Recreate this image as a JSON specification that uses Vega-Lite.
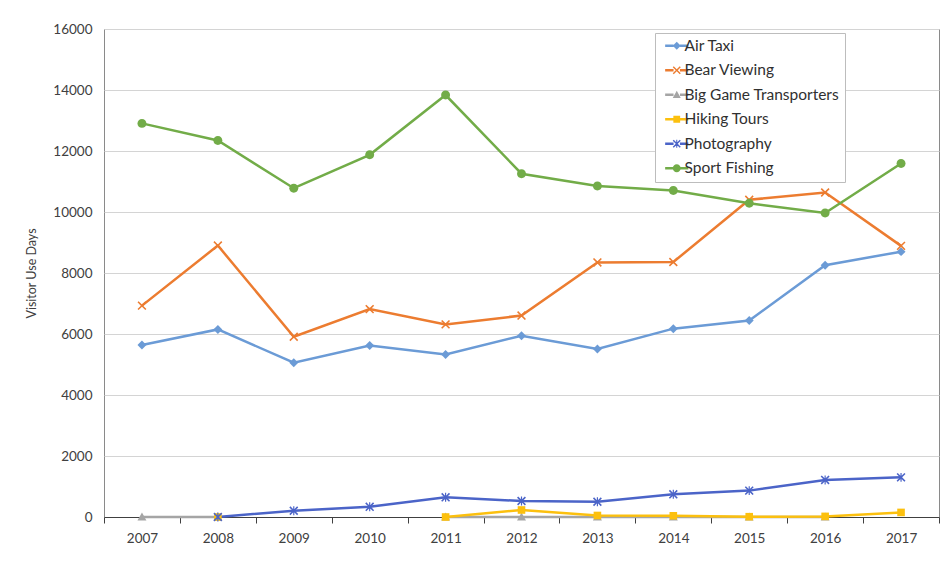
{
  "$schema": "https://vega.github.io/schema/vega-lite/v6.json",
  "width": 835,
  "height": 488,
  "autosize": "none",
  "padding": {"left": 104, "top": 29, "right": 13, "bottom": 49},
  "background": "white",
  "config": {
    "font": "Lato",
    "view": {"stroke": "#8a8a8a", "strokeWidth": 1},
    "axis": {"labelColor": "#404040", "titleColor": "#404040", "labelFont": "Lato", "titleFont": "Lato"},
    "legend": {"labelFont": "Lato"}
  },
  "data": {
    "values": [
      {"year": "2007", "series": "Air Taxi", "days": 5640},
      {"year": "2008", "series": "Air Taxi", "days": 6150},
      {"year": "2009", "series": "Air Taxi", "days": 5060},
      {"year": "2010", "series": "Air Taxi", "days": 5625},
      {"year": "2011", "series": "Air Taxi", "days": 5330},
      {"year": "2012", "series": "Air Taxi", "days": 5945},
      {"year": "2013", "series": "Air Taxi", "days": 5510},
      {"year": "2014", "series": "Air Taxi", "days": 6175},
      {"year": "2015", "series": "Air Taxi", "days": 6440},
      {"year": "2016", "series": "Air Taxi", "days": 8255},
      {"year": "2017", "series": "Air Taxi", "days": 8700},

      {"year": "2007", "series": "Bear Viewing", "days": 6930},
      {"year": "2008", "series": "Bear Viewing", "days": 8900},
      {"year": "2009", "series": "Bear Viewing", "days": 5910},
      {"year": "2010", "series": "Bear Viewing", "days": 6815},
      {"year": "2011", "series": "Bear Viewing", "days": 6315},
      {"year": "2012", "series": "Bear Viewing", "days": 6605},
      {"year": "2013", "series": "Bear Viewing", "days": 8345},
      {"year": "2014", "series": "Bear Viewing", "days": 8360},
      {"year": "2015", "series": "Bear Viewing", "days": 10400},
      {"year": "2016", "series": "Bear Viewing", "days": 10640},
      {"year": "2017", "series": "Bear Viewing", "days": 8890},

      {"year": "2007", "series": "Big Game Transporters", "days": 0},
      {"year": "2008", "series": "Big Game Transporters", "days": 0},
      {"year": "2009", "series": "Big Game Transporters", "days": null},
      {"year": "2010", "series": "Big Game Transporters", "days": null},
      {"year": "2011", "series": "Big Game Transporters", "days": 0},
      {"year": "2012", "series": "Big Game Transporters", "days": 0},
      {"year": "2013", "series": "Big Game Transporters", "days": 0},
      {"year": "2014", "series": "Big Game Transporters", "days": 0},
      {"year": "2015", "series": "Big Game Transporters", "days": 0},
      {"year": "2016", "series": "Big Game Transporters", "days": 0},
      {"year": "2017", "series": "Big Game Transporters", "days": null},

      {"year": "2007", "series": "Hiking Tours", "days": null},
      {"year": "2008", "series": "Hiking Tours", "days": 0},
      {"year": "2009", "series": "Hiking Tours", "days": null},
      {"year": "2010", "series": "Hiking Tours", "days": null},
      {"year": "2011", "series": "Hiking Tours", "days": 0},
      {"year": "2012", "series": "Hiking Tours", "days": 230},
      {"year": "2013", "series": "Hiking Tours", "days": 50},
      {"year": "2014", "series": "Hiking Tours", "days": 40},
      {"year": "2015", "series": "Hiking Tours", "days": 10},
      {"year": "2016", "series": "Hiking Tours", "days": 20},
      {"year": "2017", "series": "Hiking Tours", "days": 150},

      {"year": "2008", "series": "Photography", "days": 0},
      {"year": "2009", "series": "Photography", "days": 205},
      {"year": "2010", "series": "Photography", "days": 335},
      {"year": "2011", "series": "Photography", "days": 645},
      {"year": "2012", "series": "Photography", "days": 525},
      {"year": "2013", "series": "Photography", "days": 500},
      {"year": "2014", "series": "Photography", "days": 745},
      {"year": "2015", "series": "Photography", "days": 865},
      {"year": "2016", "series": "Photography", "days": 1215},
      {"year": "2017", "series": "Photography", "days": 1300},

      {"year": "2007", "series": "Sport Fishing", "days": 12905},
      {"year": "2008", "series": "Sport Fishing", "days": 12345},
      {"year": "2009", "series": "Sport Fishing", "days": 10780},
      {"year": "2010", "series": "Sport Fishing", "days": 11875},
      {"year": "2011", "series": "Sport Fishing", "days": 13835},
      {"year": "2012", "series": "Sport Fishing", "days": 11255},
      {"year": "2013", "series": "Sport Fishing", "days": 10855},
      {"year": "2014", "series": "Sport Fishing", "days": 10705},
      {"year": "2015", "series": "Sport Fishing", "days": 10285},
      {"year": "2016", "series": "Sport Fishing", "days": 9965},
      {"year": "2017", "series": "Sport Fishing", "days": 11590}
    ]
  },
  "encoding": {
    "x": {
      "field": "year",
      "type": "ordinal",
      "bandPosition": 0.5,
      "scale": {"type": "band", "paddingInner": 0, "paddingOuter": 0},
      "axis": {
        "title": null,
        "labelAngle": 0,
        "labelFontSize": 13.5,
        "labelPadding": 8,
        "tickBand": "extent",
        "tickSize": 6,
        "tickColor": "#404040",
        "domainColor": "#404040",
        "domainWidth": 1.2,
        "grid": false
      }
    },
    "y": {
      "field": "days",
      "type": "quantitative",
      "scale": {"domain": [0, 16000], "nice": false, "zero": true},
      "axis": {
        "title": "Visitor Use Days",
        "titleFontSize": 12.5,
        "titleFontWeight": "normal",
        "titlePadding": 14,
        "values": [0, 2000, 4000, 6000, 8000, 10000, 12000, 14000, 16000],
        "format": "d",
        "labelFontSize": 13.5,
        "labelPadding": 12,
        "ticks": false,
        "domain": false,
        "gridColor": "#d4d4d4",
        "gridWidth": 1
      }
    }
  },
  "layer": [
    {
      "transform": [{"filter": "false"}],
      "mark": {"type": "point", "filled": true, "opacity": 1},
      "encoding": {
        "fill": {
          "field": "series",
          "type": "nominal",
          "scale": {
            "domain": ["Air Taxi", "Bear Viewing", "Big Game Transporters", "Hiking Tours", "Photography", "Sport Fishing"],
            "range": ["#6b9bd6", "#ec7c30", "#a5a5a5", "#fcc00e", "#4b64c8", "#72ac48"]
          },
          "legend": {
            "title": null,
            "orient": "none",
            "legendX": 551,
            "legendY": 4,
            "labelFontSize": 15.5,
            "labelColor": "#303030",
            "labelOffset": 0,
            "symbolOffset": 9,
            "symbolSize": 64,
            "symbolOpacity": 1,
            "symbolStrokeWidth": 0,
            "rowPadding": 7.5,
            "padding": 5,
            "strokeColor": "#bdbdbd",
            "fillColor": "white"
          }
        },
        "shape": {
          "field": "series",
          "type": "nominal",
          "scale": {
            "domain": ["Air Taxi", "Bear Viewing", "Big Game Transporters", "Hiking Tours", "Photography", "Sport Fishing"],
            "range": [
              "M0,-1L1,0L0,1L-1,0Z M-2.9,-0.3H-0.8V0.3H-2.9Z M0.8,-0.3H2.9V0.3H0.8Z",
              "M-1,-0.75L-0.75,-1L0,-0.25L0.75,-1L1,-0.75L0.25,0L1,0.75L0.75,1L0,0.25L-0.75,1L-1,0.75L-0.25,0Z M-2.9,-0.3H-0.8V0.3H-2.9Z M0.8,-0.3H2.9V0.3H0.8Z",
              "M0,-1L1,0.8L-1,0.8Z M-2.9,-0.3H-0.8V0.3H-2.9Z M0.8,-0.3H2.9V0.3H0.8Z",
              "M-0.85,-0.85H0.85V0.85H-0.85Z M-2.9,-0.3H-0.85V0.3H-2.9Z M0.85,-0.3H2.9V0.3H0.85Z",
              "M-1,-0.75L-0.75,-1L0,-0.25L0.75,-1L1,-0.75L0.25,0L1,0.75L0.75,1L0,0.25L-0.75,1L-1,0.75L-0.25,0Z M-0.13,-1H0.13V1H-0.13Z M-2.9,-0.3H-0.8V0.3H-2.9Z M0.8,-0.3H2.9V0.3H0.8Z",
              "M1,0A1,1,0,1,1,-1,0A1,1,0,1,1,1,0Z M-2.9,-0.3H-0.9V0.3H-2.9Z M0.9,-0.3H2.9V0.3H0.9Z"
            ]
          },
          "legend": {
            "title": null,
            "orient": "none",
            "legendX": 551,
            "legendY": 4,
            "labelFontSize": 15.5,
            "labelColor": "#303030",
            "labelOffset": 0,
            "symbolOffset": 9,
            "symbolSize": 64,
            "symbolOpacity": 1,
            "symbolStrokeWidth": 0,
            "rowPadding": 7.5,
            "padding": 5,
            "strokeColor": "#bdbdbd",
            "fillColor": "white"
          }
        }
      }
    },
    {
      "mark": {"type": "line", "strokeWidth": 2.5, "invalid": "break-paths-show-domains"},
      "encoding": {
        "color": {
          "field": "series",
          "type": "nominal",
          "legend": null,
          "scale": {
            "domain": ["Air Taxi", "Bear Viewing", "Big Game Transporters", "Hiking Tours", "Photography", "Sport Fishing"],
            "range": ["#6b9bd6", "#ec7c30", "#a5a5a5", "#fcc00e", "#4b64c8", "#72ac48"]
          }
        }
      }
    },
    {
      "transform": [{"filter": "datum.days != null"}],
      "mark": {"type": "point", "filled": true, "opacity": 1, "size": 80, "strokeWidth": 0},
      "encoding": {
        "color": {
          "field": "series",
          "type": "nominal",
          "legend": null,
          "scale": {
            "domain": ["Air Taxi", "Bear Viewing", "Big Game Transporters", "Hiking Tours", "Photography", "Sport Fishing"],
            "range": ["#6b9bd6", "#ec7c30", "#a5a5a5", "#fcc00e", "#4b64c8", "#72ac48"]
          }
        },
        "shape": {
          "field": "series",
          "type": "nominal",
          "legend": null,
          "scale": {
            "domain": ["Air Taxi", "Bear Viewing", "Big Game Transporters", "Hiking Tours", "Photography", "Sport Fishing"],
            "range": [
              "M0,-1L1,0L0,1L-1,0Z",
              "M-1,-0.75L-0.75,-1L0,-0.25L0.75,-1L1,-0.75L0.25,0L1,0.75L0.75,1L0,0.25L-0.75,1L-1,0.75L-0.25,0Z",
              "M0,-1L1,0.8L-1,0.8Z",
              "M-0.85,-0.85H0.85V0.85H-0.85Z",
              "M-1,-0.75L-0.75,-1L0,-0.25L0.75,-1L1,-0.75L0.25,0L1,0.75L0.75,1L0,0.25L-0.75,1L-1,0.75L-0.25,0Z M-0.13,-1H0.13V1H-0.13Z",
              "M1,0A1,1,0,1,1,-1,0A1,1,0,1,1,1,0Z"
            ]
          }
        }
      }
    }
  ],
  "resolve": {"scale": {"shape": "independent", "fill": "independent"}}
}
